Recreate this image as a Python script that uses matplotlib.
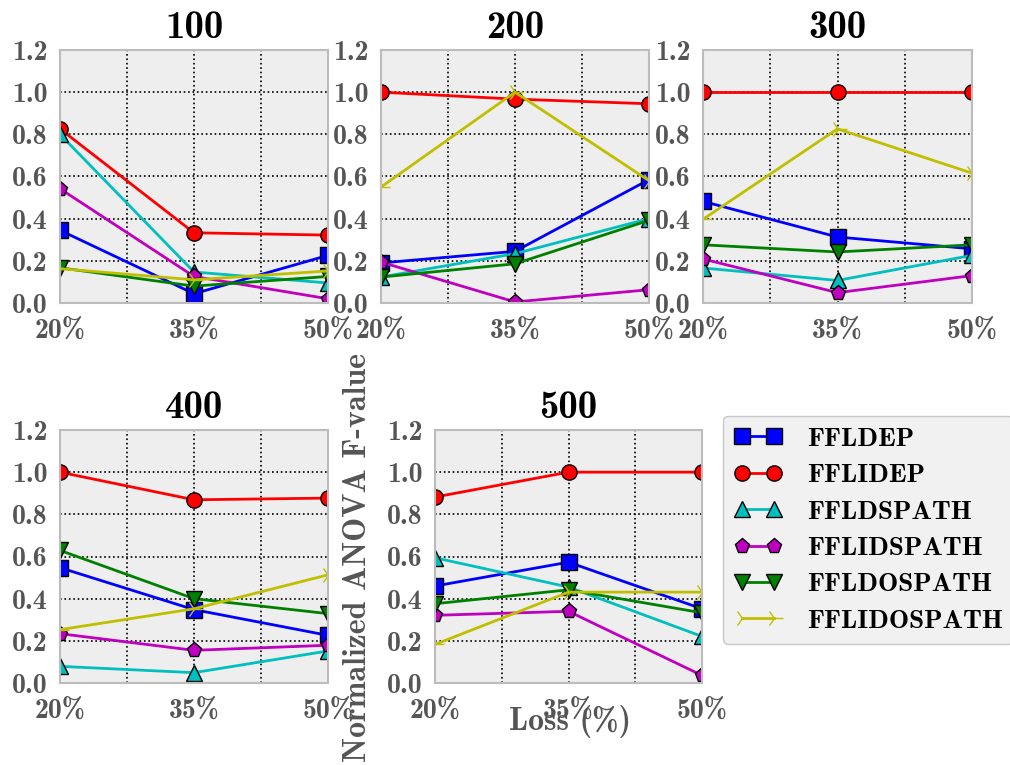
import matplotlib
matplotlib.use("Agg")
import matplotlib.pyplot as plt

# loss rates on the x axis
losses = ["20%", "35%", "50%"]
panels = ["100", "200", "300", "400", "500"]
methods = ["FFLDEP", "FFLIDEP", "FFLDSPATH", "FFLIDSPATH", "FFLDOSPATH", "FFLIDOSPATH"]

# normalized F-values per panel, one list per method (order as in methods)
f_100 = [[0.345, 0.044, 0.226], [0.826, 0.333, 0.322], [0.800, 0.147, 0.095],
         [0.542, 0.126, 0.020], [0.167, 0.080, 0.126], [0.163, 0.110, 0.152]]
f_200 = [[0.190, 0.245, 0.585], [1.000, 0.967, 0.945], [0.123, 0.234, 0.400],
         [0.194, 0.005, 0.063], [0.123, 0.186, 0.392], [0.550, 1.000, 0.580]]
f_300 = [[0.482, 0.313, 0.257], [1.000, 1.000, 1.000], [0.166, 0.107, 0.226],
         [0.209, 0.049, 0.130], [0.276, 0.242, 0.276], [0.397, 0.826, 0.616]]
f_400 = [[0.547, 0.348, 0.226], [1.000, 0.869, 0.877], [0.079, 0.049, 0.152],
         [0.234, 0.155, 0.179], [0.629, 0.400, 0.329], [0.253, 0.352, 0.513]]
f_500 = [[0.460, 0.573, 0.352], [0.882, 1.000, 1.000], [0.594, 0.455, 0.221],
         [0.321, 0.340, 0.036], [0.376, 0.442, 0.333], [0.183, 0.431, 0.431]]
values = [f_100, f_200, f_300, f_400, f_500]

colors = ["b", "r", "c", "m", "g", "y"]
markers = ["s", "o", "^", "p", "v", "4"]

plt.rcParams["font.family"] = ["cmb10", "DejaVu Serif"]
plt.rcParams["axes.unicode_minus"] = False
plt.rcParams["mathtext.fontset"] = "cm"

fig = plt.figure(figsize=(10.1, 7.65), dpi=100)
W, H = 1010.0, 765.0
# axes boxes in pixels: left, top, right, bottom
boxes = [(60, 50, 328, 303), (381, 50, 649, 303), (703, 50, 972, 303),
         (60, 430, 328, 683), (435, 430, 702, 683)]

x = [0, 1, 2]
lines = []
for k, (l, t, r, b) in enumerate(boxes):
    ax = fig.add_axes([l / W, 1 - b / H, (r - l) / W, (b - t) / H])
    ax.set_facecolor("#eeeeee")
    for s in ax.spines.values():
        s.set_color("#bcbcbc")
        s.set_linewidth(1.5)
    for i, m in enumerate(methods):
        ln, = ax.plot(x, values[k][i], color=colors[i], marker=markers[i],
                      markersize=11 if markers[i] != "4" else 13,
                      markeredgecolor="k" if markers[i] != "4" else colors[i],
                      markeredgewidth=1, linewidth=2, label=m)
        if k == 0:
            lines.append(ln)
    ax.set_xlim(0, 2)
    ax.set_ylim(0, 1.2)
    ax.set_xticks([0, 0.5, 1, 1.5, 2])
    ax.set_xticklabels([losses[0], "", losses[1], "", losses[2]])
    ax.set_yticks([0, 0.2, 0.4, 0.6, 0.8, 1.0, 1.2])
    ax.set_yticklabels(["0.0", "0.2", "0.4", "0.6", "0.8", "1.0", "1.2"])
    ax.tick_params(length=0, labelsize=20, labelcolor="#555555")
    ax.tick_params(axis="x", pad=11)
    ax.tick_params(axis="y", pad=9)
    ax.grid(True, color="k", linestyle=":", linewidth=1.2)
    ax.set_axisbelow(True)
    ax.set_title(panels[k], fontsize=28, pad=9)

leg = fig.legend(lines, methods, loc="upper left",
                 bbox_to_anchor=(723 / W, 1 - 416 / H), borderaxespad=0,
                 numpoints=2, fontsize=19.5, handlelength=1.8, frameon=True,
                 fancybox=True, borderpad=0.4, labelspacing=0.46,
                 handletextpad=0.9)
leg.get_frame().set_facecolor("#eeeeee")
leg.get_frame().set_edgecolor("#bcbcbc")

fig.text(357 / W, 1 - 557 / H, "Normalized ANOVA F-value", rotation=90,
         ha="center", va="center", fontsize=23, color="#555555")
fig.text(570 / W, 1 - 722 / H, "Loss (%)", ha="center", va="center",
         fontsize=23, color="#555555")

fig.savefig("out.png", dpi=100)
